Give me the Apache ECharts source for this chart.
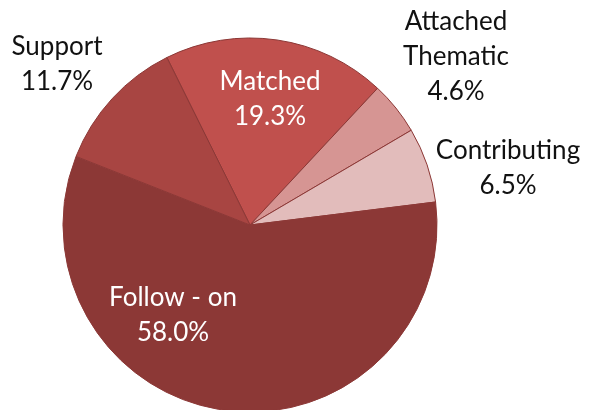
<!DOCTYPE html>
<html>
<head>
<meta charset="utf-8">
<script src="https://cdn.jsdelivr.net/npm/echarts@6/dist/echarts.min.js"></script>
<style>
  html, body { margin: 0; padding: 0; background: #fff; }
  #main { width: 589px; height: 410px; }
</style>
</head>
<body>
<div id="main"></div>
<script>
// slices, clockwise from the top-left edge of "Matched"
var categories = ['Matched', 'Attached\nThematic', 'Contributing', 'Follow - on', 'Support'];
var shares = [19.3, 4.6, 6.5, 58.0, 11.7];
var sliceColors = ['#C0504D', '#D69593', '#E2BCBB', '#8C3836', '#A84542'];
var insideLabel = [true, false, false, true, false];

// where each label block sits (centre, px), tuned against the reference
var labelSpots = [[270, 99], [456, 57], [508, 168], [173, 315], [57, 64]];

var chart = echarts.init(document.getElementById('main'));

var option = {
  animation: false,
  backgroundColor: '#fff',
  series: [{
    type: 'pie',
    center: [250, 225],
    radius: 187,
    startAngle: 116.4,
    clockwise: true,
    silent: true,
    avoidLabelOverlap: false,
    itemStyle: {
      borderColor: '#8C3836',
      borderWidth: 1
    },
    labelLine: { show: false },
    label: {
      fontFamily: 'Lato',
      fontSize: 26,
      lineHeight: 35,
      overflow: 'none',
      edgeDistance: 0,
      formatter: function (p) {
        return p.name + '\n' + p.value.toFixed(1) + '%';
      }
    },
    labelLayout: function (p) {
      var s = labelSpots[p.dataIndex];
      return { x: s[0], y: s[1], align: 'center', verticalAlign: 'middle' };
    },
    data: categories.map(function (name, i) {
      return {
        name: name,
        value: shares[i],
        itemStyle: { color: sliceColors[i] },
        label: {
          position: insideLabel[i] ? 'inside' : 'outside',
          color: insideLabel[i] ? '#ffffff' : '#111111'
        }
      };
    })
  }]
};

chart.setOption(option);
</script>
</body>
</html>
